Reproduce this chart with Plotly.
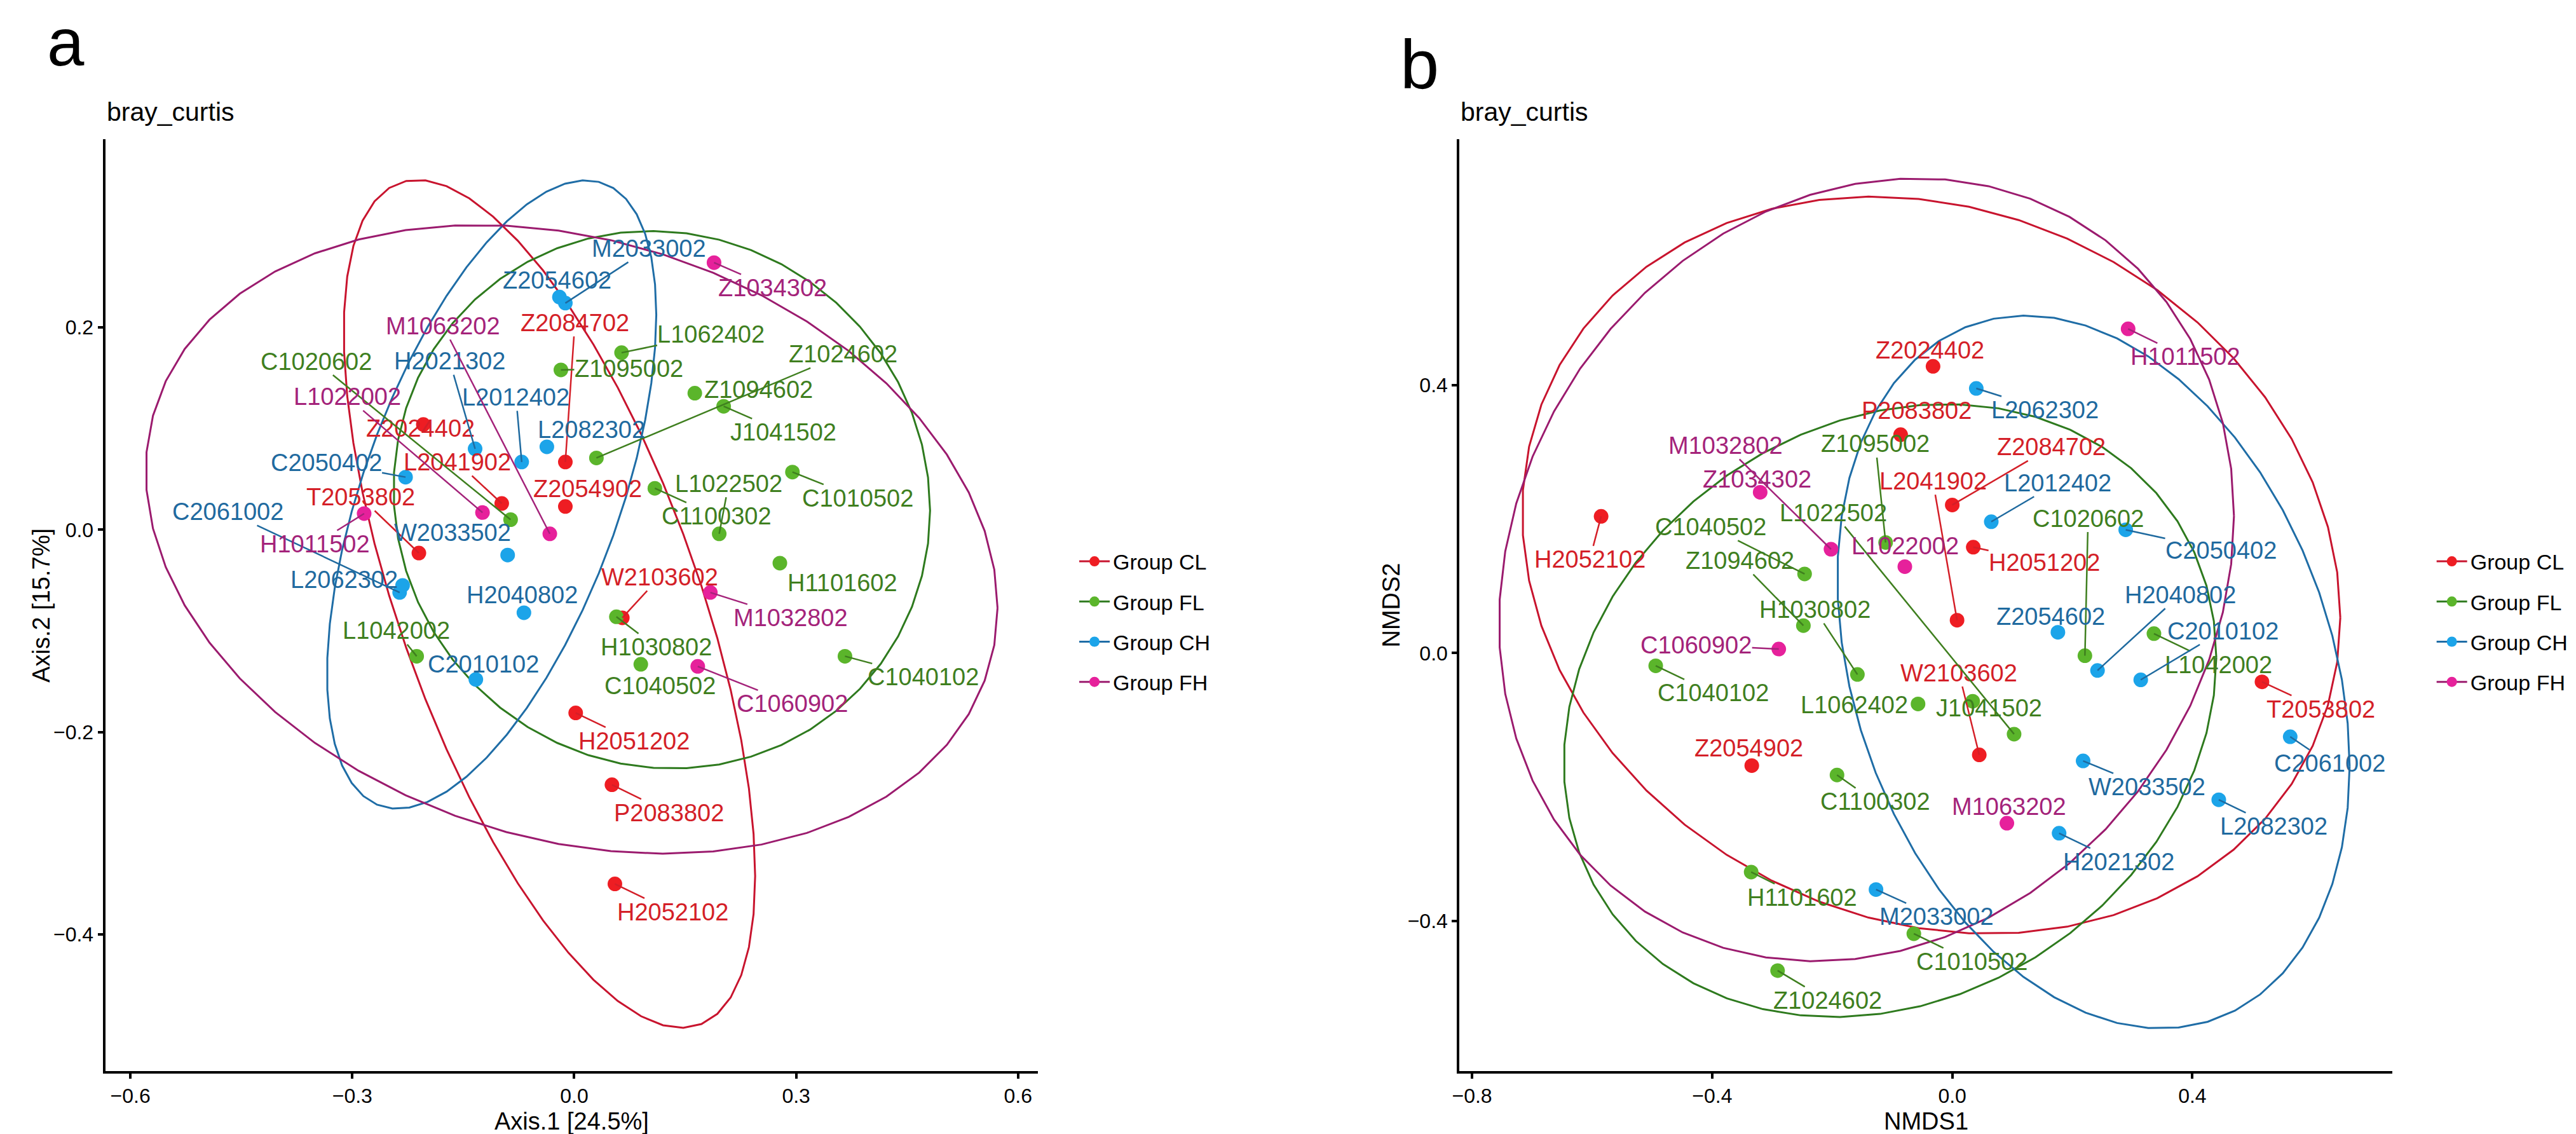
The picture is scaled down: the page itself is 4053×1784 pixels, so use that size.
import numpy as np
import plotly.graph_objects as go

# ---------------- data ----------------
group_codes = ["CL", "FL", "CH", "FH"]
group_labels = ["Group CL", "Group FL", "Group CH", "Group FH"]

# Panel a : PCoA (bray_curtis)
pcoa_samples = [
    "Z2084702", "Z2054902", "Z2024402", "L2041902", "T2053802", "W2103602", "H2051202", "P2083802", "H2052102",
    "C1020602", "L1062402", "Z1095002", "Z1094602", "Z1024602", "J1041502", "L1022502", "C1100302", "C1010502",
    "H1101602", "H1030802", "C1040502", "C1040102", "L1042002",
    "M2033002", "Z2054602", "H2021302", "L2012402", "L2082302", "C2050402", "C2061002", "L2062302", "W2033502",
    "H2040802", "C2010102",
    "Z1034302", "M1063202", "L1022002", "H1011502", "M1032802", "C1060902",
]
pcoa_groups = ["CL"] * 9 + ["FL"] * 14 + ["CH"] * 11 + ["FH"] * 6
pcoa_axis1 = [
    -0.012, -0.012, -0.204, -0.098, -0.210, 0.065, 0.002, 0.051, 0.055,
    -0.086, 0.064, -0.018, 0.163, 0.030, 0.202, 0.196, 0.109, 0.295,
    0.278, 0.057, 0.090, 0.366, -0.213,
    -0.012, -0.020, -0.134, -0.071, -0.037, -0.228, -0.236, -0.232, -0.090,
    -0.068, -0.133,
    0.189, -0.033, -0.124, -0.284, 0.184, 0.167,
]
pcoa_axis2 = [
    0.067, 0.023, 0.104, 0.026, -0.023, -0.087, -0.181, -0.252, -0.350,
    0.010, 0.175, 0.158, 0.135, 0.071, 0.122, -0.004, 0.041, 0.057,
    -0.033, -0.086, -0.133, -0.125, -0.125,
    0.224, 0.230, 0.080, 0.067, 0.082, 0.052, -0.062, -0.055, -0.025,
    -0.082, -0.148,
    0.264, -0.004, 0.017, 0.016, -0.062, -0.135,
]
pcoa_title_x = "Axis.1 [24.5%]"
pcoa_title_y = "Axis.2 [15.7%]"
pcoa_xticks = [-0.6, -0.3, 0.0, 0.3, 0.6]
pcoa_yticks = [-0.4, -0.2, 0.0, 0.2]

# Panel b : NMDS (bray_curtis)
nmds_samples = [
    "H2052102", "Z2024402", "P2083802", "Z2084702", "H2051202", "L2041902", "W2103602", "Z2054902", "T2053802",
    "C1040502", "Z1094602", "H1030802", "L1062402", "J1041502", "L1022502", "Z1095002", "C1020602", "L1042002",
    "C1100302", "H1101602", "Z1024602", "C1040102", "C1010502",
    "L2062302", "L2012402", "C2050402", "Z2054602", "H2040802", "C2010102", "C2061002", "W2033502", "L2082302",
    "H2021302", "M2033002",
    "Z1034302", "M1032802", "L1022002", "C1060902", "M1063202", "H1011502",
]
nmds_groups = ["CL"] * 9 + ["FL"] * 14 + ["CH"] * 11 + ["FH"] * 6
nmds_1 = [
    -0.585, -0.032, -0.086, 0.000, 0.035, 0.008, 0.045, -0.334, 0.516,
    -0.246, -0.248, -0.158, -0.057, 0.034, 0.103, -0.111, 0.221, 0.336,
    -0.192, -0.335, -0.291, -0.494, -0.064,
    0.040, 0.065, 0.289, 0.176, 0.242, 0.314, 0.563, 0.218, 0.444,
    0.178, -0.127,
    -0.320, -0.202, -0.079, -0.289, 0.091, 0.293,
]
nmds_2 = [
    0.204, 0.428, 0.326, 0.221, 0.158, 0.049, -0.152, -0.168, -0.043,
    0.118, 0.041, -0.032, -0.076, -0.072, -0.121, 0.165, -0.004, 0.029,
    -0.182, -0.327, -0.474, -0.019, -0.419,
    0.395, 0.196, 0.184, 0.031, -0.026, -0.040, -0.125, -0.161, -0.219,
    -0.269, -0.353,
    0.240, 0.155, 0.129, 0.006, -0.254, 0.484,
]
nmds_title_x = "NMDS1"
nmds_title_y = "NMDS2"
nmds_xticks = [-0.8, -0.4, 0.0, 0.4]
nmds_yticks = [-0.4, 0.0, 0.4]

# ---------------- styles ----------------
W, H = 4053, 1784
FONT = "Liberation Sans, Arial, sans-serif"
point_colors = {"CL": "#EE1D23", "FL": "#5BB52B", "CH": "#1CA4E9", "FH": "#E6219B"}
text_colors = {"CL": "#D41F28", "FL": "#3F7F1F", "CH": "#1F6A9F", "FH": "#A4237A"}
ellipse_colors = {"CL": "#C8142E", "FL": "#2E7A1E", "CH": "#1F6DA6", "FH": "#9B1B6E"}
LABEL_FS = 38

# label placement (pixel offsets of label centre from its point)
offsets_a = {
    "M1063202": (-168, -327), "Z2084702": (15, -219), "Z2054602": (-4, -26), "M2033002": (132, -86),
    "Z1034302": (92, 40), "L1062402": (141, -29), "Z1095002": (107, -2), "Z1024602": (388, -163),
    "Z1094602": (100, -6), "J1041502": (94, 41), "L1022502": (15, -79), "C1100302": (97, 44),
    "C1010502": (103, 41), "H1101602": (98, 31), "W2103602": (59, -64), "M1032802": (126, 40),
    "H1030802": (63, 48), "C1040502": (30, 34), "C1060902": (149, 59), "C1040102": (123, 33),
    "H2051202": (92, 44), "P2083802": (90, 44), "H2052102": (91, 44), "C1020602": (-306, -249),
    "H2021302": (-40, -138), "L1022002": (-213, -182), "L2012402": (-9, -102), "Z2024402": (-5, 6),
    "L2082302": (70, -27), "C2050402": (-125, -23), "L2041902": (-70, -65), "Z2054902": (35, -28),
    "T2053802": (-92, -88), "C2061002": (-270, -127), "H1011502": (-77, 48), "W2033502": (-87, -35),
    "L2062302": (-92, -9), "H2040802": (-3, -28), "L1042002": (-32, -40), "C2010102": (12, -24),
}
offsets_b = {
    "H2052102": (-18, 68), "Z1034302": (-5, -20), "M1032802": (-166, -163), "C1040502": (-148, -74),
    "Z1094602": (-100, -102), "L1022502": (-284, -348), "L1022002": (0, -32), "Z1095002": (-16, -155),
    "P2083802": (25, -38), "Z2024402": (-5, -25), "L2062302": (108, 34), "H1011502": (90, 44),
    "Z2084702": (156, -91), "L2041902": (-38, -219), "L2012402": (104, -61), "H2051202": (112, 24),
    "C1020602": (5, -216), "C2050402": (150, 33), "H2040802": (130, -119), "Z2054602": (-11, -25),
    "C2010102": (129, -77), "L1042002": (102, 49), "T2053802": (93, 43), "C2061002": (62, 42),
    "W2103602": (-32, -129), "J1041502": (26, 11), "L1062402": (-100, 2), "H1030802": (-67, -102),
    "C1060902": (-130, -6), "C1040102": (90, 43), "Z2054902": (-5, -27), "C1100302": (60, 42),
    "W2033502": (100, 41), "L2082302": (87, 42), "M1063202": (3, -26), "H2021302": (94, 45),
    "H1101602": (80, 40), "M2033002": (95, 43), "C1010502": (91, 44), "Z1024602": (79, 47),
}


# ---------------- stat_ellipse (ggplot2: t-type, level 0.95, cov.trob) ----------------
def cov_trob(X, nu=5, maxit=25, tol=0.01):
    n, p = X.shape
    wt = np.ones(n)
    loc = X.mean(axis=0)
    w = np.sqrt(wt)
    Xc = X - loc
    for _ in range(maxit):
        w0 = w
        Xc = X - loc
        A = np.sqrt(w / w.sum())[:, None] * Xc
        _, d, Vt = np.linalg.svd(A, full_matrices=False)
        wX = Xc @ Vt.T @ np.diag(1.0 / d)
        Q = (wX ** 2).sum(axis=1)
        w = (wt * (nu + p)) / (nu + Q)
        loc = (w[:, None] * X).sum(axis=0) / w.sum()
        if np.all(np.abs(w - w0) < tol):
            break
    sw = np.sqrt(w)[:, None] * Xc
    cov = sw.T @ sw / wt.sum()
    return cov, loc


def stat_ellipse(x, y, level=0.95, segments=51):
    X = np.column_stack([x, y])
    n = X.shape[0]
    cov, center = cov_trob(X)
    dfd = n - 1
    qf = dfd / 2.0 * ((1 - level) ** (-2.0 / dfd) - 1)  # F quantile for dfn = 2
    radius = np.sqrt(2 * qf)
    ang = np.arange(segments + 1) * 2 * np.pi / segments
    circle = np.column_stack([np.cos(ang), np.sin(ang)])
    L = np.linalg.cholesky(cov)
    e = center + radius * (circle @ L.T)
    return e[:, 0], e[:, 1]


fig = go.Figure()
annotations = []


def add_panel(samples, groups, xs, ys, offsets, xref, yref, legend_name):
    xs = np.asarray(xs, float)
    ys = np.asarray(ys, float)
    g = np.asarray(groups)
    for code in group_codes:
        m = g == code
        ex, ey = stat_ellipse(xs[m], ys[m])
        fig.add_trace(go.Scatter(x=ex, y=ey, mode="lines", xaxis=xref, yaxis=yref,
                                 line=dict(color=ellipse_colors[code], width=3),
                                 showlegend=False, hoverinfo="skip"))
    for code in group_codes:
        m = g == code
        fig.add_trace(go.Scatter(x=xs[m], y=ys[m], mode="markers", xaxis=xref, yaxis=yref,
                                 marker=dict(color=point_colors[code], size=23, line=dict(width=0)),
                                 showlegend=False, text=list(np.asarray(samples)[m])))
    for code, lab in zip(group_codes, group_labels):
        fig.add_trace(go.Scatter(x=[None], y=[None], mode="lines+markers", xaxis=xref, yaxis=yref,
                                 name=lab, legend=legend_name, legendgroup=legend_name + code,
                                 marker=dict(color=point_colors[code], size=26),
                                 line=dict(color=ellipse_colors[code], width=3)))
    for s, grp, xv, yv in zip(samples, groups, xs, ys):
        dx, dy = offsets[s]
        wlab = LABEL_FS * (0.556 * (len(s) - 1) + 0.72)
        hlab = LABEL_FS * 1.15
        gap = max(abs(dx) - wlab / 2, abs(dy) - hlab / 2)
        acol = text_colors[grp] if gap > 18 else "rgba(0,0,0,0)"
        annotations.append(dict(
            x=xv, y=yv, xref=xref, yref=yref, text=s, showarrow=True, ax=dx, ay=dy,
            arrowhead=0, arrowwidth=2.5, arrowcolor=acol, standoff=0, startstandoff=0,
            font=dict(family=FONT, size=LABEL_FS, color=text_colors[grp]), borderpad=0))


add_panel(pcoa_samples, pcoa_groups, pcoa_axis1, pcoa_axis2, offsets_a, "x", "y", "legend")
add_panel(nmds_samples, nmds_groups, nmds_1, nmds_2, offsets_b, "x2", "y2", "legend2")

ybot = (H - 1677) / H
ytop = (H - 211) / H

axis_common = dict(showline=True, linewidth=4, linecolor="black", ticks="outside", ticklen=8,
                   tickwidth=4, tickcolor="black", showgrid=False, zeroline=False,
                   tickfont=dict(family=FONT, size=32, color="black"), tickformat=".1f")


def px(v):
    return v / W


def py(v):
    return (H - v) / H


text_items = [
    ("a", 84, 58, 105),
    ("b", 2220, 92, 110),
]
for t, xp, yp, fs in text_items:
    annotations.append(dict(text=t, x=px(xp), y=py(yp), xref="paper", yref="paper", showarrow=False,
                            xanchor="center", yanchor="middle",
                            font=dict(family=FONT, size=fs, color="black")))
for xp in (146, 2283):
    annotations.append(dict(text="bray_curtis", x=px(xp), y=py(168), xref="paper", yref="paper",
                            showarrow=False, xanchor="left", yanchor="middle",
                            font=dict(family=FONT, size=41, color="black")))
for t, xp, yp, ang in [(pcoa_title_x, 882, 1756, 0), (pcoa_title_y, 45, 944, -90),
                       (nmds_title_x, 3019, 1756, 0), (nmds_title_y, 2175, 944, -90)]:
    annotations.append(dict(text=t, x=px(xp), y=py(yp), xref="paper", yref="paper", showarrow=False,
                            xanchor="center", yanchor="middle", textangle=ang,
                            font=dict(family=FONT, size=38, color="black")))

legend_common = dict(font=dict(family=FONT, size=34, color="black"), bgcolor="rgba(0,0,0,0)",
                     yanchor="middle", y=py(970), xanchor="left", itemwidth=48,
                     traceorder="grouped", tracegroupgap=16)

fig.update_layout(
    width=W, height=H, margin=dict(l=0, r=0, t=0, b=0),
    paper_bgcolor="white", plot_bgcolor="white",
    xaxis=dict(domain=[px(146), px(1618)], range=[-0.634, 0.627], tickvals=pcoa_xticks,
               anchor="y", **axis_common),
    yaxis=dict(domain=[ybot, ytop], range=[-0.535, 0.386], tickvals=pcoa_yticks,
               anchor="x", **axis_common),
    xaxis2=dict(domain=[px(2283), px(3755)], range=[-0.821, 0.733], tickvals=nmds_xticks,
                anchor="y2", **axis_common),
    yaxis2=dict(domain=[ybot, ytop], range=[-0.624, 0.767], tickvals=nmds_yticks,
                anchor="x2", **axis_common),
    legend=dict(x=px(1678), **legend_common),
    legend2=dict(x=px(3820), **legend_common),
    annotations=annotations,
    showlegend=True,
)

fig.write_html("out.html")
